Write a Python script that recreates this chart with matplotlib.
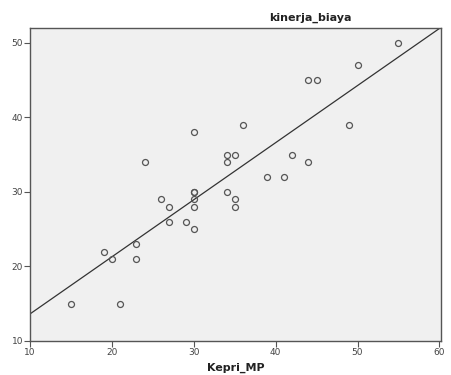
import numpy as np
import matplotlib
matplotlib.use("Agg")
import matplotlib.pyplot as plt

kepri_mp = [55, 50, 44, 45, 36, 49, 30, 34, 35, 24, 34, 42, 44, 39, 41,
            30, 30, 34, 26, 30, 35, 27, 30, 35, 27, 29, 30, 23, 19, 20, 23, 15, 21]
kinerja_biaya = [50, 47, 45, 45, 39, 39, 38, 35, 35, 34, 34, 35, 34, 32, 32,
                 30, 30, 30, 29, 29, 29, 28, 28, 28, 26, 26, 25, 23, 22, 21, 21, 15, 15]
xticks = [10, 20, 30, 40, 50, 60]
yticks = [10, 20, 30, 40, 50]

x = np.array(kepri_mp, dtype=float)
y = np.array(kinerja_biaya, dtype=float)
slope, intercept = np.polyfit(x, y, 1)

fig = plt.figure(figsize=(4.52, 3.75), dpi=100)
ax = fig.add_axes([0.0664, 0.0907, 0.9093, 0.8346])
ax.set_facecolor("#f0f0f0")
xl = (10, 60.2)
yl = (10, 52)
ax.set_xlim(*xl)
ax.set_ylim(*yl)

xx = np.array(xl)
ax.plot(xx, intercept + slope * xx, color="#333333", lw=0.9)
ax.plot(x, y, linestyle="none", marker="o", markersize=4.3,
        markerfacecolor="none", markeredgecolor="#555555", markeredgewidth=0.9)

ax.set_xticks(xticks)
ax.set_yticks(yticks)
ax.tick_params(direction="out", length=4, width=0.8, colors="#555555",
               labelsize=6.5, labelcolor="#444444", pad=1)
for s in ax.spines.values():
    s.set_color("#555555")
    s.set_linewidth(1.0)

fig.text(310 / 452, 1 - 18 / 375, "kinerja_biaya", ha="center", va="center",
         fontsize=8, fontweight="bold", color="#222222")
ax.set_xlabel("Kepri_MP", fontsize=8, fontweight="bold", color="#222222", labelpad=4)

fig.savefig("out.png", dpi=100, facecolor="white")
